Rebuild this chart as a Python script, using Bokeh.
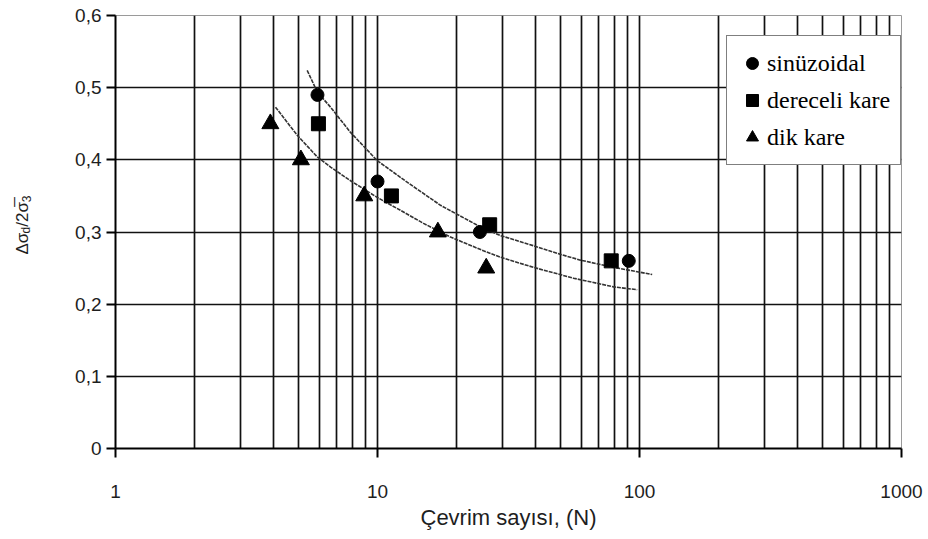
from math import pi

from bokeh.core.properties import value
from bokeh.embed import file_html
from bokeh.layouts import row
from bokeh.models import (CustomJSTickFormatter, FixedTicker, Legend,
                          LegendItem, Range1d)
from bokeh.plotting import figure
from bokeh.resources import INLINE

# Test results: cycles to failure (N) and cyclic stress ratio
sinus_N = [5.9, 10.0, 24.6, 91.0]
sinus_y = [0.49, 0.37, 0.30, 0.26]

kare_N = [5.95, 11.3, 26.8, 78.0]
kare_y = [0.45, 0.35, 0.31, 0.26]

dik_N = [3.9, 5.1, 8.9, 17.0, 26.0]
dik_y = [0.45, 0.40, 0.35, 0.30, 0.25]

# Trend curves through the two groups of results
upper_N = [5.39, 5.89, 6.62, 7.89, 9.97, 12.98, 17.40, 24.73, 29.48, 39.39,
           49.94, 59.55, 79.59, 98.0, 111.8]
upper_y = [0.524, 0.494, 0.473, 0.438, 0.399, 0.369, 0.337, 0.307, 0.295,
           0.281, 0.269, 0.261, 0.251, 0.245, 0.241]
lower_N = [4.08, 4.94, 5.89, 6.62, 7.89, 9.97, 12.24, 14.98, 18.99, 25.38,
           29.48, 39.39, 55.99, 79.59, 98.0]
lower_y = [0.473, 0.434, 0.404, 0.390, 0.371, 0.348, 0.330, 0.312, 0.293,
           0.274, 0.265, 0.251, 0.236, 0.224, 0.220]

x_major = [1, 10, 100, 1000]
x_minor = [m * d for d in (1, 10, 100) for m in range(2, 10)]
y_ticks = [0, 0.1, 0.2, 0.3, 0.4, 0.5, 0.6]

legend_labels = ["sinüzoidal", "dereceli kare", "dik kare"]
x_title = "Çevrim sayısı, (N)"
# y title pieces: Δσ_d / 2σ̅_3 (subscripts flagged True)
y_title_parts = [("Δσ", False), ("d", True), ("/2", False),
                 ("σ\u0305", False), ("3", True)]

TXT = "#1e1e1e"
H = 539
TITLE_W = 60
FRAME_TOP, FRAME_BOTTOM = 15, 448   # frame edges, px from the page top

# ---- narrow strip, without axes, that carries the rotated y title ----
# its frame is aligned with the main frame, so its y range is set in
# page pixels measured upward from the bottom edge
t = figure(width=TITLE_W, height=H, x_range=Range1d(0, TITLE_W),
           y_range=Range1d(H - FRAME_BOTTOM, H - FRAME_TOP),
           x_axis_location=None, y_axis_location=None,
           output_backend="svg", toolbar_location=None,
           min_border_left=0, min_border_right=0,
           min_border_top=FRAME_TOP, min_border_bottom=H - FRAME_BOTTOM)
t.grid.visible = False
t.outline_line_color = None
t.background_fill_color = "white"
t.border_fill_color = "white"

main_size, sub_size = 17, 12
# approximate advance widths (em) of each piece in Liberation Sans
adv_em = [1.24, 0.556, 0.834, 0.60, 0.556]
pos = H - 254.0
for (txt, is_sub), em in zip(y_title_parts, adv_em):
    fs = sub_size if is_sub else main_size
    t.text(x=[25.5 if is_sub else 22.0], y=[pos], text=[txt], angle=pi / 2,
           text_align="left", text_baseline="alphabetic",
           text_font=value("Liberation Sans"),
           text_font_size=value(f"{fs}px"), text_color=TXT)
    pos += em * fs

# ---- main chart ----
p = figure(width=928 - TITLE_W, height=H, x_axis_type="log",
           x_range=Range1d(1, 1000), y_range=Range1d(0, 0.6),
           output_backend="svg", toolbar_location=None,
           min_border_left=115 - TITLE_W, min_border_right=27,
           min_border_top=FRAME_TOP, min_border_bottom=H - FRAME_BOTTOM)
p.background_fill_color = "white"
p.border_fill_color = "white"
p.outline_line_color = "#9a9a9a"
p.outline_line_width = 1

p.xaxis.ticker = FixedTicker(ticks=x_major, minor_ticks=x_minor)
p.xaxis.formatter = CustomJSTickFormatter(code="return String(Math.round(tick));")
p.yaxis.ticker = FixedTicker(ticks=y_ticks)
p.yaxis.formatter = CustomJSTickFormatter(
    code="return tick == 0 ? '0' : tick.toFixed(1).replace('.', ',');")

for ax in (p.xaxis, p.yaxis):
    ax.axis_line_color = "black"
    ax.axis_line_width = 2
    ax.major_tick_line_color = "black"
    ax.major_tick_line_width = 2
    ax.major_tick_in = 0
    ax.major_tick_out = 9
    ax.minor_tick_in = 0
    ax.minor_tick_out = 0
    ax.major_label_text_font = "Liberation Sans"
    ax.major_label_text_font_size = "19px"
    ax.major_label_text_color = TXT

p.xaxis.major_label_standoff = 27
p.yaxis.major_label_standoff = 5
p.xaxis.axis_label = x_title
p.xaxis.axis_label_text_font = "Liberation Sans"
p.xaxis.axis_label_text_font_size = "22px"
p.xaxis.axis_label_text_font_style = "normal"
p.xaxis.axis_label_text_color = TXT
p.xaxis.axis_label_standoff = 4

# grid: every decade subdivision plus every 0.1 on y
p.xgrid.ticker = FixedTicker(ticks=[1, 10, 100], minor_ticks=x_minor)
p.xgrid.grid_line_color = "#111111"
p.xgrid.grid_line_width = 1.7
p.xgrid.minor_grid_line_color = "#111111"
p.xgrid.minor_grid_line_width = 1.7
p.ygrid.grid_line_color = "#111111"
p.ygrid.grid_line_width = 1.7

# trend curves
p.line(upper_N, upper_y, line_color="#333333", line_width=1.6, line_dash="4 1")
p.line(lower_N, lower_y, line_color="#333333", line_width=1.6, line_dash="4 1")

# measured points
r_sin = p.scatter(sinus_N, sinus_y, marker="circle", size=13,
                  fill_color="black", line_color="black")
r_kare = p.scatter(kare_N, kare_y, marker="square", size=14,
                   fill_color="black", line_color="black")
r_dik = p.scatter(dik_N, dik_y, marker="triangle", size=17,
                  fill_color="black", line_color="black")

legend = Legend(items=[LegendItem(label=legend_labels[0], renderers=[r_sin]),
                       LegendItem(label=legend_labels[1], renderers=[r_kare]),
                       LegendItem(label=legend_labels[2], renderers=[r_dik])],
                location=(611, 283), orientation="vertical")
legend.border_line_color = "black"
legend.border_line_width = 1.5
legend.background_fill_color = "white"
legend.background_fill_alpha = 1
legend.padding = 10
legend.spacing = 3
legend.margin = 0
legend.glyph_width = 30
legend.glyph_height = 34
legend.label_height = 34
legend.label_standoff = 0
legend.label_text_font = "Liberation Serif"
legend.label_text_font_size = "24px"
legend.label_text_color = "black"
p.add_layout(legend)

layout = row(t, p, spacing=0)
open("out.html", "w").write(file_html(layout, INLINE))
